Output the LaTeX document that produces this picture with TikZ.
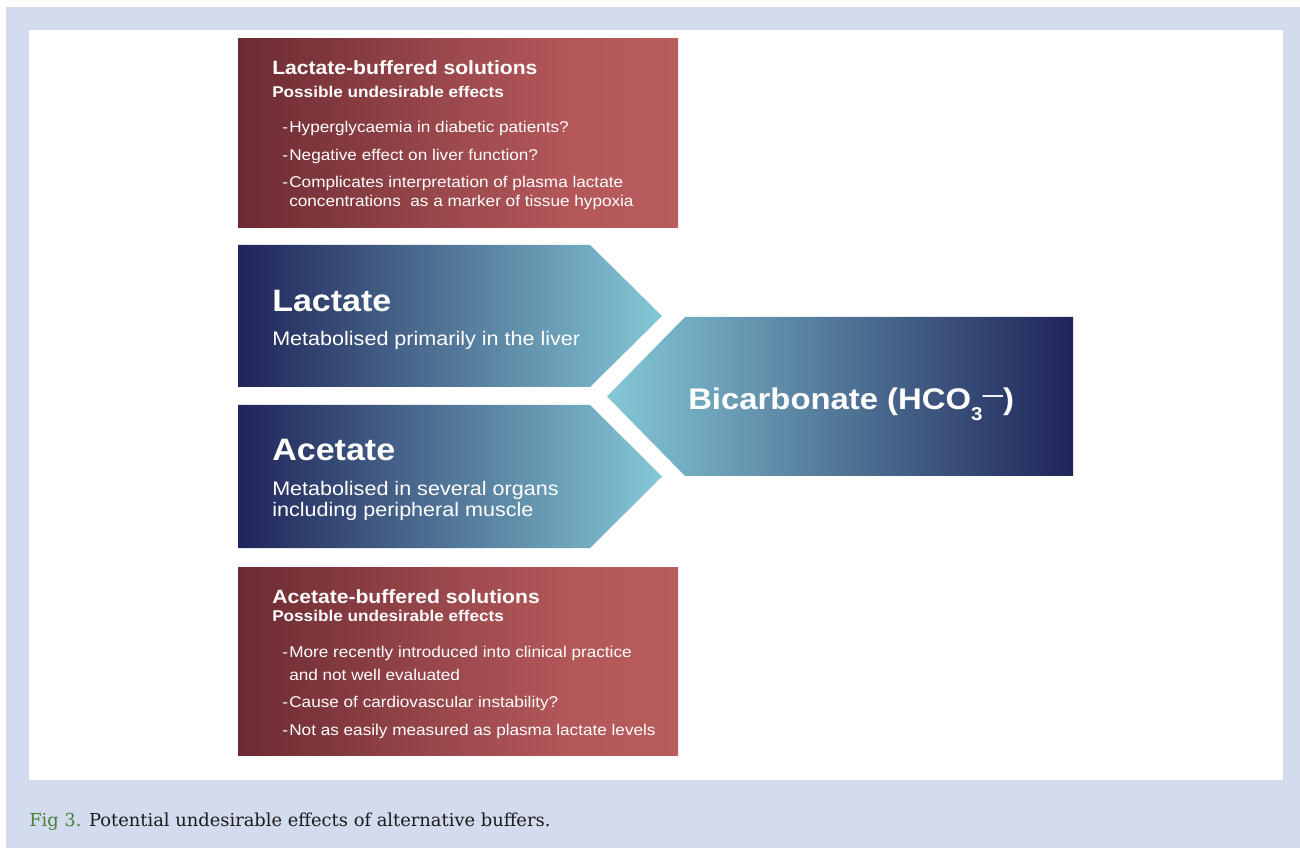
\documentclass[tikz,border=0pt]{standalone}
\usepackage{fontspec}
\setmainfont{DejaVu Serif}
\newfontfamily\diagfont[FakeStretch=1.1]{Liberation Sans}
\usetikzlibrary{positioning}

\definecolor{panelbg}{HTML}{D3DCEE}
\definecolor{redA}{HTML}{6C2B32}
\definecolor{redB}{HTML}{9D4A4E}
\definecolor{redC}{HTML}{B45759}
\definecolor{redD}{HTML}{B85C5C}
\definecolor{navyA}{HTML}{1F2459}
\definecolor{aquaA}{HTML}{84C8D6}
\definecolor{capgreen}{HTML}{4B7F3B}
\definecolor{captext}{HTML}{1A1A1A}

\pgfdeclarehorizontalshading{redfade}{100bp}{color(0bp)=(redA); color(25bp)=(redA); color(50bp)=(redB); color(63bp)=(redC); color(75bp)=(redD); color(100bp)=(redD)}
\pgfdeclarehorizontalshading{arrowfade}{100bp}{color(0bp)=(navyA); color(25bp)=(navyA); color(75bp)=(aquaA); color(100bp)=(aquaA)}
\pgfdeclarehorizontalshading{bicarbfade}{100bp}{color(0bp)=(aquaA); color(25bp)=(aquaA); color(75bp)=(navyA); color(100bp)=(navyA)}

\newcommand\itemdash{\makebox[5.3pt][l]{-}}

\tikzset{
  txt/.style={inner sep=0pt, anchor=base west, text=white},
  headtxt/.style={txt, font=\diagfont\bfseries\fontsize{14.4}{17}\selectfont},
  subtxt/.style={txt, font=\diagfont\bfseries\fontsize{11.7}{14}\selectfont},
  itemtxt/.style={txt, font=\diagfont\fontsize{11.7}{14}\selectfont},
  bigtxt/.style={txt, font=\diagfont\bfseries\fontsize{23.2}{27}\selectfont},
  desctxt/.style={txt, font=\diagfont\fontsize{14.7}{17}\selectfont},
  redbox/.style={shading=redfade},
  arrowbox/.style={shading=arrowfade},
}

\begin{document}
\begin{tikzpicture}[x=0.75pt, y=-0.75pt]
    \useasboundingbox (0,0) rectangle (1300,848);
    % frame
    \fill[white] (0,0) rectangle (1300,848);
    \fill[panelbg] (6,7) rectangle (1300,848);
    \fill[white] (29,30) rectangle (1283,780);

    % lactate-buffered box
    \shade[redbox] (238,39) rectangle (678,228);
    \node[headtxt] (lachead) at (272,75) {Lactate-buffered solutions};
    \node[subtxt] (lacsub) at (272,98) {Possible undesirable effects};
    \node[itemtxt] (lacone) at (282,133) {\itemdash Hyperglycaemia in diabetic patients?};
    \node[itemtxt] (lactwo) at (282,161) {\itemdash Negative effect on liver function?};
    \node[itemtxt] (lacthree) at (282,188) {\itemdash Complicates interpretation of plasma lactate};
    \node[itemtxt] (lacthreeb) at (289,207) {concentrations\ \ as a marker of tissue hypoxia};

    % arrows
    \shade[arrowbox] (238,245) -- (590,245) -- (662,316) -- (590,387) -- (238,387) -- cycle;
    \shade[arrowbox] (238,405) -- (590,405) -- (662,476.5) -- (590,548) -- (238,548) -- cycle;
    \node[bigtxt] (lactate) at (272,312) {Lactate};
    \node[desctxt] (lacdesc) at (272,346) {Metabolised primarily in the liver};
    \node[bigtxt] (acetate) at (272,461) {Acetate};
    \node[desctxt] (acedesc) at (272,495) {Metabolised in several organs};
    \node[desctxt] (acedescb) at (272,517) {including peripheral muscle};

    % bicarbonate
    \shade[shading=bicarbfade] (685,317) -- (1073,317) -- (1073,476) -- (685,476) -- (607,396.5) -- cycle;
    \node[txt, font=\diagfont\bfseries\fontsize{22.4}{26}\selectfont] (bicarb) at (688,410)
      {Bicarbonate (HCO\raisebox{-8pt}{\fontsize{14}{16}\selectfont 3}\raisebox{6pt}{\fontsize{14}{16}\selectfont —})};

    % acetate-buffered box
    \shade[redbox] (238,567) rectangle (678,755);
    \node[headtxt] (acehead) at (272,603) {Acetate-buffered solutions};
    \node[subtxt] (acesub) at (272,621) {Possible undesirable effects};
    \node[itemtxt] (aceone) at (282,657) {\itemdash More recently introduced into clinical practice};
    \node[itemtxt] (aceoneb) at (289,680) {and not well evaluated};
    \node[itemtxt] (acetwo) at (282,707) {\itemdash Cause of cardiovascular instability?};
    \node[itemtxt] (acethree) at (282,735) {\itemdash Not as easily measured as plasma lactate levels};

    % caption
    \node[inner sep=0pt, anchor=base west, text=captext, font=\fontsize{13.4}{16}\selectfont] (caption) at (29,826)
      {\textcolor{capgreen}{Fig 3.} Potential undesirable effects of alternative buffers.};
\end{tikzpicture}
\end{document}
